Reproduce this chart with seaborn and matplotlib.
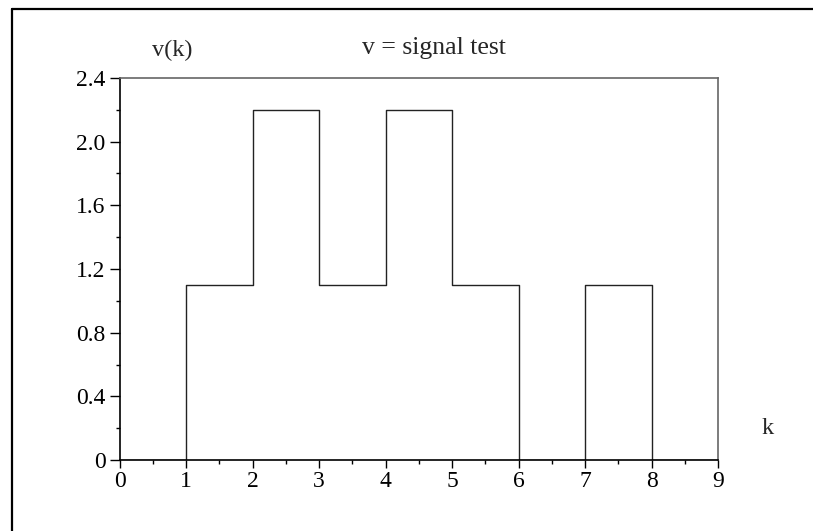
import numpy as np
import pandas as pd
import seaborn as sns
import matplotlib
matplotlib.use("Agg")
import matplotlib.pyplot as plt
from matplotlib.lines import Line2D
from matplotlib.ticker import MultipleLocator

k_values = [0, 1, 2, 3, 4, 5, 6, 7, 8, 9]
v_values = [0, 1.1, 2.2, 1.1, 2.2, 1.1, 0, 1.1, 0, 0]
x_ticks = [0, 1, 2, 3, 4, 5, 6, 7, 8, 9]
y_ticks = [0, 0.4, 0.8, 1.2, 1.6, 2.0, 2.4]
y_tick_labels = ["0", "0.4", "0.8", "1.2", "1.6", "2.0", "2.4"]

sns.set_theme(style="white")
plt.rcParams['font.family'] = ['Liberation Serif', 'DejaVu Serif']

fig = plt.figure(figsize=(8.13, 5.31), dpi=100)
ax = fig.add_axes([119.5/813, 1-460/531, (718-119.5)/813, (460-78)/531])

df = pd.DataFrame({"k": k_values, "v": v_values})
sns.lineplot(data=df, x="k", y="v", ax=ax, drawstyle="steps-post",
             color="#222222", linewidth=1.0, estimator=None)

ax.set_xlim(0, 9)
ax.set_ylim(0, 2.4)
ax.set_xticks(x_ticks)
ax.set_xticklabels([str(t) for t in x_ticks])
ax.set_yticks(y_ticks)
ax.set_yticklabels(y_tick_labels)
ax.xaxis.set_minor_locator(MultipleLocator(0.5))
ax.yaxis.set_minor_locator(MultipleLocator(0.2))
ax.tick_params(axis="x", which="major", direction="out", length=6, width=1,
               color="black", labelsize=17, labelcolor="black", pad=2, bottom=True)
ax.tick_params(axis="y", which="major", direction="out", length=7, width=1,
               color="black", labelsize=17, labelcolor="black", pad=3, left=True)
ax.tick_params(axis="both", which="minor", direction="out", length=3, width=1,
               color="black", bottom=True, left=True)
ax.set_xlabel("")
ax.set_ylabel("")
for s in ["left", "bottom"]:
    ax.spines[s].set_color("black")
    ax.spines[s].set_linewidth(1.2)
for s in ["top", "right"]:
    ax.spines[s].set_color("#666666")
    ax.spines[s].set_linewidth(1.2)

fig.text(172/813, 1-50/531, "v(k)", ha="center", va="center", fontsize=17.5)
fig.text(434/813, 1-48/531, "v = signal test", ha="center", va="center", fontsize=18.5)
fig.text(768/813, 1-429/531, "k", ha="center", va="center", fontsize=17.5)

fig.add_artist(Line2D([12/813, 12/813], [0, 1-9/531], transform=fig.transFigure,
                      color="black", linewidth=1.6))
fig.add_artist(Line2D([12/813, 1], [1-9/531, 1-9/531], transform=fig.transFigure,
                      color="black", linewidth=1.6))

fig.savefig("out.png", dpi=100)
